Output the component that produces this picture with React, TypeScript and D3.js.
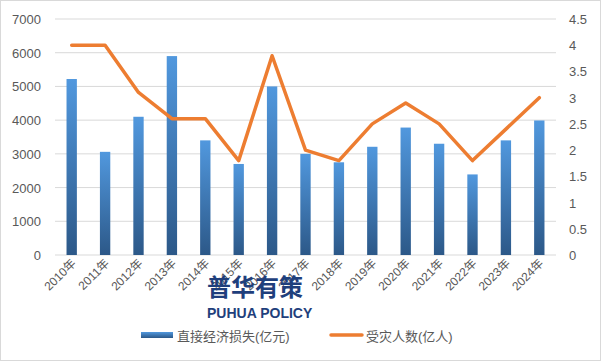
import React from "react";
import * as d3 from "d3";

const categories = ["2010年","2011年","2012年","2013年","2014年","2015年","2016年","2017年","2018年","2019年","2020年","2021年","2022年","2023年","2024年"];
const lossValues = [5220, 3060, 4100, 5900, 3400, 2700, 5000, 3000, 2750, 3210, 3780, 3300, 2390, 3400, 3990];
const affectedValues = [4.0, 4.0, 3.1, 2.6, 2.6, 1.8, 3.8, 2.0, 1.8, 2.5, 2.9, 2.5, 1.8, 2.4, 3.0];
const leftTicks = [0, 1000, 2000, 3000, 4000, 5000, 6000, 7000];
const rightTicks = [0, 0.5, 1, 1.5, 2, 2.5, 3, 3.5, 4, 4.5];
const barLegend = "直接经济损失(亿元)";
const lineLegend = "受灾人数(亿人)";

const W = 601, H = 361;
const left = 55, right = 556, top = 19, bottom = 255;

export default function App() {
  const x = d3.scaleBand().domain(categories).range([left, right]).paddingInner(0.69).paddingOuter(0.345);
  const yL = d3.scaleLinear().domain([0, 7000]).range([bottom, top]);
  const yR = d3.scaleLinear().domain([0, 4.5]).range([bottom, top]);
  const line = d3.line<number>().x((_, i) => x(categories[i])! + x.bandwidth() / 2).y(d => yR(d));
  const font = "'Liberation Sans', 'Noto Sans CJK SC', sans-serif";
  const txt = "#595959";
  return (
    <svg width={W} height={H} style={{ position: "absolute", left: 0, top: 0 }} fontFamily={font}>
      <defs>
        <linearGradient id="barGrad" x1="0" y1="0" x2="0" y2="1">
          <stop offset="0" stopColor="#5198de" />
          <stop offset="1" stopColor="#2c5888" />
        </linearGradient>
      </defs>
      <rect x={0.5} y={0.5} width={W - 1} height={H - 1} fill="#fff" stroke="#d9d9d9" />
      {leftTicks.map(t => (
        <g key={t}>
          <line x1={left} x2={right} y1={yL(t)} y2={yL(t)} stroke="#d9d9d9" strokeWidth={1} />
          <text x={41} y={yL(t) + 5} textAnchor="end" fontSize={13} fill={txt}>{t}</text>
        </g>
      ))}
      {rightTicks.map(t => (
        <text key={t} x={569} y={yR(t) + 5} fontSize={13} fill={txt}>{t}</text>
      ))}
      {lossValues.map((v, i) => (
        <rect key={i} x={x(categories[i])} y={yL(v)} width={x.bandwidth()} height={bottom - yL(v)} fill="url(#barGrad)" />
      ))}
      <path d={line(affectedValues) || ""} fill="none" stroke="#ed7d31" strokeWidth={3.5} strokeLinejoin="round" strokeLinecap="round" />
      {categories.map(c => {
        const cx = x(c)! + x.bandwidth() / 2 + 5;
        return (
          <text key={c} transform={`translate(${cx},${264}) rotate(-45)`} textAnchor="end" fontSize={12} fill={txt}>{c}</text>
        );
      })}
      <text x={207} y={296} fontSize={24} fontWeight="bold" fill="#1f3f7c" fontFamily="'Noto Sans CJK SC', sans-serif">普华有策</text>
      <text x={207} y={318} fontSize={14} fontWeight="bold" fill="#1f3f7c" fontFamily="'Liberation Sans Narrow', 'Liberation Sans', sans-serif">PUHUA POLICY</text>
      <rect x={141} y={332} width={32} height={6} fill="url(#barGrad)" />
      <text x={177} y={341} fontSize={13} fill={txt}>{barLegend}</text>
      <line x1={331} x2={362} y1={335} y2={335} stroke="#ed7d31" strokeWidth={3.5} strokeLinecap="round" />
      <text x={366} y={341} fontSize={13} fill={txt}>{lineLegend}</text>
    </svg>
  );
}
